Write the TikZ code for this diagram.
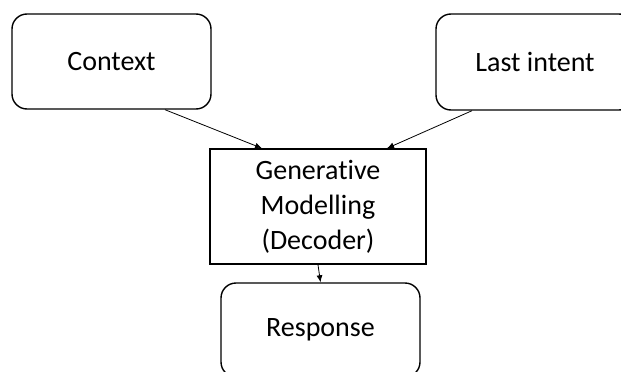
\documentclass[tikz,border=0pt]{standalone}
\usepackage{fontspec}
\setmainfont[RawFeature=-liga]{Carlito}
\usetikzlibrary{arrows.meta,calc}
\begin{document}
\begin{tikzpicture}[x=1pt,y=-1pt,
  box/.style={draw=black,line width=1.4pt,rounded corners=15pt,inner sep=0pt,
    font=\fontsize{28}{35}\selectfont,align=center},
  sharpbox/.style={box,rounded corners=0pt},
  link/.style={draw=black,line width=0.8pt,-{Latex[length=7pt,width=6pt]}}]
  \useasboundingbox (0,0) rectangle (621,372);
  \clip (0,0) rectangle (621,372);
  \fill[white] (0,0) rectangle (621,372);

  \node[box,minimum width=199pt,minimum height=95pt] (ctx) at (111.5,61.5) {Context};
  \node[box,minimum width=198pt,minimum height=96pt] (intent) at (535,62) {Last intent};
  \node[sharpbox,minimum width=216pt,minimum height=115pt] (gen) at (318,206.5)
    {Generative\\Modelling\\(Decoder)};
  \node[box,minimum width=199pt,minimum height=94pt] (resp) at (320.5,330) {Response};

  \draw[link] ($(ctx.south)+(53.5,0)$) -- ($(gen.north)+(-56,0)$);
  \draw[link] ($(intent.south)+(-63,0)$) -- ($(gen.north)+(69,0)$);
  \draw[link] (gen.south) -- (resp.north);
\end{tikzpicture}
\end{document}
